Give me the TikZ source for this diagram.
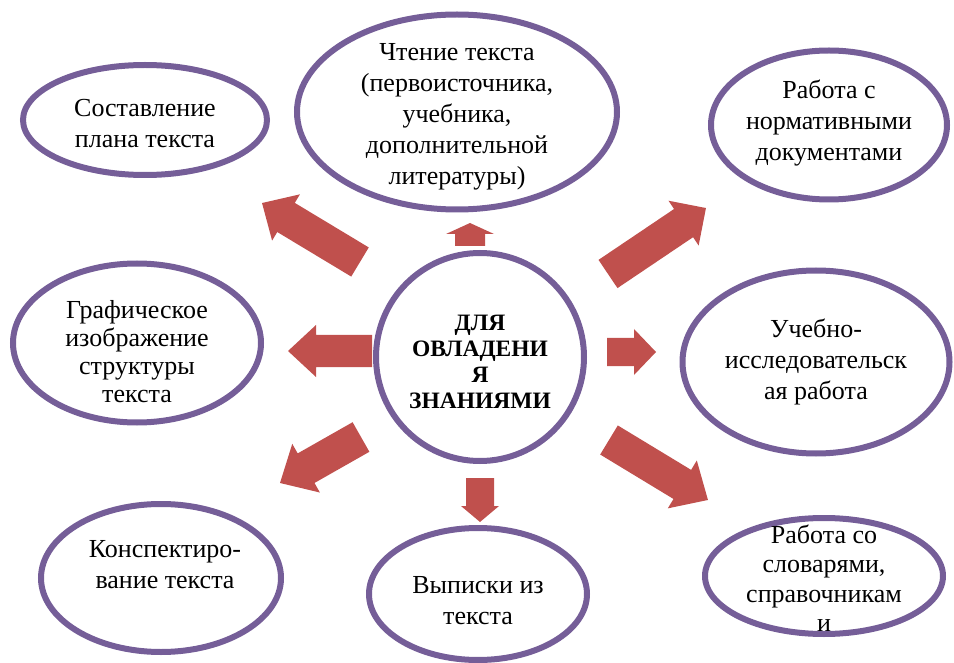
\documentclass[tikz,border=0pt]{standalone}
\usepackage{fontspec}
\setmainfont{Liberation Serif}
\usetikzlibrary{shapes.geometric,calc}
\definecolor{ovalc}{RGB}{117,94,152}
\definecolor{arrc}{RGB}{192,80,77}
\newcommand\blockarrow[5]{%
  \fill[arrc] let \p1=(#1), \p2=(#2),
    \n1={atan2(\y2-\y1,\x2-\x1)}, \n2={veclen(\x2-\x1,\y2-\y1)} in
    [shift={(\p1)}, x=1pt, y=1pt, rotate=\n1]
    (0,-#3) -- (\n2-#5,-#3) -- (\n2-#5,-#4) -- (\n2,0) -- (\n2-#5,#4) -- (\n2-#5,#3) -- (0,#3) -- cycle;}
\begin{document}
\begin{tikzpicture}[x=1pt,y=-1pt,
  oval/.style={draw=ovalc,line width=6pt,ellipse,inner sep=0pt},
  txt/.style={align=center,font=\fontsize{26}{31}\selectfont,inner sep=0pt},
  ctxt/.style={align=center,font=\fontsize{23.5}{26}\selectfont\bfseries,inner sep=0pt}]
\useasboundingbox (0,0) rectangle (954,663);
% ovals
\node[oval,minimum width=244pt,minimum height=110pt] (tl) at (145,120) {};
\node[oval,minimum width=320pt,minimum height=195pt] (tc) at (457,112) {};
\node[oval,minimum width=236pt,minimum height=149pt] (tr) at (829,125) {};
\node[oval,minimum width=248pt,minimum height=159pt] (ml) at (137,343) {};
\node[oval,circle,minimum size=208pt] (c) at (480,357) {};
\node[oval,minimum width=267pt,minimum height=183pt] (mr) at (816,362) {};
\node[oval,minimum width=240pt,minimum height=148pt] (bl) at (161,578) {};
\node[oval,minimum width=218pt,minimum height=132pt] (bc) at (478,594) {};
\node[oval,minimum width=238pt,minimum height=116pt] (br) at (824,576) {};
% texts
\node[txt] (tlT) at (145,124) {Составление\\плана текста};
\node[txt] (tcT) at (457,117) {Чтение текста\\(первоисточника,\\учебника,\\дополнительной\\литературы)};
\node[txt] (trT) at (829,123) {Работа с\\нормативными\\документами};
\node[txt,font=\fontsize{26}{28}\selectfont] (mlT) at (137,352) {Графическое\\изображение\\структуры\\текста};
\node[ctxt] (cT) at (480,362) {ДЛЯ\\ОВЛАДЕНИ\\Я\\ЗНАНИЯМИ};
\node[txt] (mrT) at (816,362) {Учебно-\\исследовательск\\ая работа};
\node[txt] (blT) at (165,565) {Конспектиро-\\вание текста};
\node[txt] (bcT) at (478,601) {Выписки из\\текста};
\node[txt,font=\fontsize{26}{29.5}\selectfont] (brT) at (824,578) {Работа со\\словарями,\\справочникам\\и};
% arrow coordinates
\coordinate (a1s) at (360,262); \coordinate (a1e) at (262,203);
\coordinate (a2s) at (470,246); \coordinate (a2e) at (470,223);
\coordinate (a3s) at (608,274); \coordinate (a3e) at (706,208);
\coordinate (a4s) at (372,351); \coordinate (a4e) at (288,351);
\coordinate (a5s) at (607,352); \coordinate (a5e) at (656,352);
\coordinate (a6s) at (361,437); \coordinate (a6e) at (280,483);
\coordinate (a7s) at (480,478); \coordinate (a7e) at (480,522);
\coordinate (a8s) at (609,440); \coordinate (a8e) at (708,500);
\blockarrow{a1s}{a1e}{17}{27}{28}
\blockarrow{a2s}{a2e}{15}{24}{11}
\blockarrow{a3s}{a3e}{17}{27}{27}
\blockarrow{a4s}{a4e}{16}{26}{28}
\blockarrow{a5s}{a5e}{14}{23}{22}
\blockarrow{a6s}{a6e}{17}{28}{30}
\blockarrow{a7s}{a7e}{14}{19}{16}
\blockarrow{a8s}{a8e}{17}{28}{30}
\end{tikzpicture}
\end{document}
